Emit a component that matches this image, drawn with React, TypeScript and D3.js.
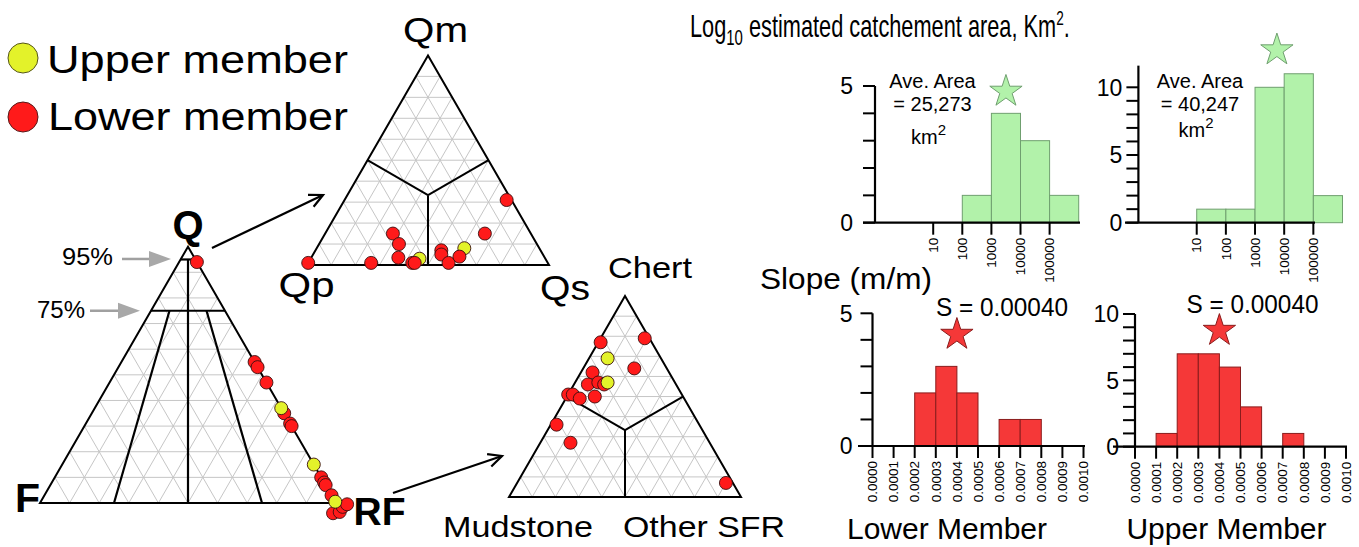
import React from 'react';
import * as d3 from 'd3';

const FONT = "'Liberation Sans', Arial, Helvetica, sans-serif";

// ---------------- DATA ----------------
type Member = 'U' | 'L';
type TPoint = [number, number, number, Member];

const memberLabels = ['Upper member', 'Lower member'];

// QFL: [Q, F, L(RF)]
const qflPoints: TPoint[] = [
  [94, 0, 6, 'L'],
  [55, 0, 45, 'L'], [53, 0, 47, 'L'], [47, 0, 53, 'L'],
  [35, 0, 65, 'L'], [31, 0, 69, 'L'], [30, 0, 70, 'L'],
  [10, 0, 90, 'L'], [8, 0, 92, 'L'], [7, 0, 93, 'L'], [3, 0, 97, 'L'],
  [-4, 3, 101, 'L'], [-3.5, 0.5, 103, 'L'], [-1.5, -1.5, 103, 'L'], [-0.5, -3.5, 104, 'L'],
  [37, 0, 63, 'U'], [15, 0, 85, 'U'], [0.5, 0, 99.5, 'U'],
];

// Qm-Qp-Qs: [Qm, Qp, Qs]
const qmPoints: TPoint[] = [
  [3, 52, 45, 'U'], [8, 31, 61, 'U'],
  [1, 99, 0, 'L'], [1, 73, 26, 'L'], [15, 57, 28, 'L'], [10, 57, 33, 'L'], [3.5, 60.5, 36, 'L'],
  [1, 56, 43, 'L'], [1, 55, 44, 'L'], [7, 41, 52, 'L'], [5, 42, 53, 'L'], [1, 41, 58, 'L'],
  [4, 35, 61, 'L'], [15, 19, 66, 'L'], [31, 2, 67, 'L'],
];

// Chert-Mudstone-Other SFR
const chertPoints: TPoint[] = [
  [77, 22, 1, 'L'], [79, 2, 19, 'L'], [64, 14, 22, 'L'], [62, 33, 5, 'L'], [56, 38, 6, 'L'],
  [57, 33, 10, 'L'], [56, 31, 13, 'L'], [51, 49, 0, 'L'], [51, 47, 2, 'L'], [49, 45, 6, 'L'],
  [50, 38, 12, 'L'], [36, 61.5, 2.5, 'L'], [27, 60, 13, 'L'], [7, 3, 90, 'L'],
  [69, 23, 8, 'U'], [57, 29, 14, 'U'],
];

const qflLabels = ['Q', 'F', 'RF'];
const qmLabels = ['Qm', 'Qp', 'Qs'];
const chertLabels = ['Chert', 'Mudstone', 'Other SFR'];
const qflBoundaries = [95, 75];
const qflBoundaryLabels = ['95%', '75%'];
const qflFeldsparSplits = [25, 75]; // % lithic along base

// Histograms
const areaEdgesLog = [-1, 0, 1, 2, 3, 4, 5, 6];
const lowerAreaCounts = [0, 0, 0, 1, 4, 3, 1];
const upperAreaCounts = [0, 0, 1, 1, 10, 11, 2];
const areaTickLogs = [1, 2, 3, 4, 5];
const areaTickLabels = ['10', '100', '1000', '10000', '100000'];
const slopeEdges = [0, 0.0001, 0.0002, 0.0003, 0.0004, 0.0005, 0.0006, 0.0007, 0.0008, 0.0009, 0.001];
const lowerSlopeCounts = [0, 0, 2, 3, 2, 0, 1, 1, 0, 0];
const upperSlopeCounts = [0, 1, 7, 7, 6, 3, 0, 1, 0, 0];
const slopeTickLabels = ['0.0000', '0.0001', '0.0002', '0.0003', '0.0004', '0.0005', '0.0006', '0.0007', '0.0008', '0.0009', '0.0010'];
const aveAreas = ['25,273', '40,247'];
const aveSlopes = ['0.00040', '0.00040'];
const areaStars: [number, number][] = [[3.5, 4.8], [3.75, 12.75]];
const slopeStars: [number, number][] = [[0.0004, 4.2], [0.0004, 8.75]];
const memberTitles = ['Lower Member', 'Upper Member'];

// ---------------- STYLE ----------------
const RED = '#ff1a1a';
const YELLOW = '#e3f22a';
const GREEN_FILL = '#b2f2aa';
const GREEN_STROKE = '#6f9f6f';
const RED_BAR = '#f53838';
const RED_BAR_STROKE = '#8a1c1c';
const GRID = '#c6c6c6';

const line = d3.line<[number, number]>();

function makeTernary(cx: number, baseY: number, side: number) {
  const h = (side * Math.sqrt(3)) / 2;
  const left = cx - side / 2;
  const sx = d3.scaleLinear().domain([0, 100]).range([0, side]);
  const sy = d3.scaleLinear().domain([0, 100]).range([baseY, baseY - h]);
  const proj = (t: number, l: number, r: number): [number, number] => {
    const s = t + l + r;
    const tt = (t * 100) / s;
    const rr = (r * 100) / s;
    return [left + sx(rr) + sx(tt) / 2, sy(tt)];
  };
  return proj;
}

type Seg = [[number, number, number], [number, number, number]];

function Ternary(props: {
  cx: number; baseY: number; side: number; points: TPoint[]; divisions: Seg[];
  labels: string[]; labelOffsets: [number, number][]; labelSizes: number[]; labelLens: (number | undefined)[];
  bold?: boolean; divWidth?: number;
}) {
  const { cx, baseY, side, points, divisions, labels, labelOffsets, labelSizes, labelLens, bold } = props;
  const p = makeTernary(cx, baseY, side);
  const grid: [number, number][][] = [];
  for (const k of d3.range(10, 100, 10)) {
    grid.push([p(k, 100 - k, 0), p(k, 0, 100 - k)]);
    grid.push([p(0, 100 - k, k), p(100 - k, 0, k)]);
    grid.push([p(0, k, 100 - k), p(100 - k, k, 0)]);
  }
  const verts = [p(100, 0, 0), p(0, 100, 0), p(0, 0, 100)];
  return (
    <g>
      {grid.map((g, i) => (
        <path key={'g' + i} d={line(g) || ''} stroke={GRID} strokeWidth={1} fill="none" />
      ))}
      {divisions.map((s, i) => (
        <path key={'d' + i} d={line([p(...s[0]), p(...s[1])]) || ''} stroke="#000" strokeWidth={props.divWidth ?? 2} fill="none" />
      ))}
      <path d={(line(verts) || '') + 'Z'} stroke="#000" strokeWidth={2} fill="none" strokeLinejoin="miter" />
      {points.map((pt, i) => {
        const [x, y] = p(pt[0], pt[1], pt[2]);
        return (
          <circle key={'p' + i} cx={x} cy={y} r={6.5} fill={pt[3] === 'U' ? YELLOW : RED} stroke="#3a1010" strokeWidth={0.9} />
        );
      })}
      {labels.map((lab, i) => (
        <text key={'l' + i} x={verts[i][0] + labelOffsets[i][0]} y={verts[i][1] + labelOffsets[i][1]}
          textAnchor="middle" fontSize={labelSizes[i]} fontWeight={bold ? 'bold' : 'normal'} fontFamily={FONT}
          textLength={labelLens[i]} lengthAdjust="spacingAndGlyphs">
          {lab}
        </text>
      ))}
    </g>
  );
}

function Histogram(props: {
  x: d3.ScaleLinear<number, number>; y: d3.ScaleLinear<number, number>;
  edges: number[]; counts: number[]; fill: string; stroke: string;
  xTicks: number[]; xTickLabels: string[]; yMaxTick: number; yLabelTicks: number[];
  yAxisTop: number; xAxisFrom: number; xAxisTo: number; yLabelGap: number;
  star: [number, number]; starFill: string; starStroke: string;
}) {
  const { x, y, edges, counts, fill, stroke, xTicks, xTickLabels, yMaxTick, yLabelTicks, star } = props;
  const x0 = x.range()[0];
  const y0 = y(0);
  const starPath = d3.symbol(d3.symbolStar, 324)() || '';
  return (
    <g fontFamily={FONT}>
      {counts.map((c, i) =>
        c > 0 ? (
          <rect key={i} x={x(edges[i])} y={y(c)} width={x(edges[i + 1]) - x(edges[i])} height={y0 - y(c)}
            fill={fill} stroke={stroke} strokeWidth={1} />
        ) : null
      )}
      <line x1={props.xAxisFrom} x2={props.xAxisTo} y1={y0} y2={y0} stroke="#000" strokeWidth={2.2} />
      <line x1={x0} x2={x0} y1={y0} y2={y(props.yAxisTop)} stroke="#000" strokeWidth={2.2} />
      {d3.range(0, yMaxTick + 1).map((t) => (
        <line key={'yt' + t} x1={x0 - 12} x2={x0} y1={y(t)} y2={y(t)} stroke="#000" strokeWidth={2} />
      ))}
      {yLabelTicks.map((t) => (
        <text key={'yl' + t} x={x0 - props.yLabelGap} y={y(t)} dy="0.36em" textAnchor="end" fontSize={23}>
          {t}
        </text>
      ))}
      {xTicks.map((t, i) => (
        <g key={'xt' + i}>
          <line x1={x(t)} x2={x(t)} y1={y0} y2={y0 + 12} stroke="#000" strokeWidth={2} />
          <text transform={`translate(${x(t)},${y0 + 15}) rotate(-90)`} textAnchor="end" dy="0.35em" fontSize={13.5}>
            {xTickLabels[i]}
          </text>
        </g>
      ))}
      <path d={starPath} transform={`translate(${x(star[0])},${y(star[1])})`} fill={props.starFill} stroke={props.starStroke} strokeWidth={1} />
    </g>
  );
}

function GrayArrow({ x1, x2, y }: { x1: number; x2: number; y: number }) {
  return (
    <g>
      <line x1={x1} x2={x2 - 20} y1={y} y2={y} stroke="#a0a0a0" strokeWidth={2.5} />
      <path d={`M${x2},${y} L${x2 - 22},${y - 8} L${x2 - 22},${y + 8} Z`} fill="#a8a8a8" />
    </g>
  );
}

function BlackArrow({ x1, y1, x2, y2 }: { x1: number; y1: number; x2: number; y2: number }) {
  const a = Math.atan2(y2 - y1, x2 - x1);
  const L = 15;
  const w1: [number, number] = [x2 - L * Math.cos(a - 0.45), y2 - L * Math.sin(a - 0.45)];
  const w2: [number, number] = [x2 - L * Math.cos(a + 0.45), y2 - L * Math.sin(a + 0.45)];
  return (
    <g stroke="#000" strokeWidth={2.2} fill="none">
      <line x1={x1} y1={y1} x2={x2} y2={y2} />
      <path d={line([w1, [x2, y2], w2]) || ''} />
    </g>
  );
}

export default function App() {
  const centroid: [number, number, number] = [100 / 3, 100 / 3, 100 / 3];
  const voronoi: Seg[] = [
    [centroid, [50, 50, 0]],
    [centroid, [50, 0, 50]],
    [centroid, [0, 50, 50]],
  ];
  const [b95, b75] = qflBoundaries;
  const [s1, s2] = qflFeldsparSplits;
  const qflDivs: Seg[] = [
    [[b95, 100 - b95, 0], [b95, 0, 100 - b95]],
    [[b75, 100 - b75, 0], [b75, 0, 100 - b75]],
    [[b95, (100 - b95) / 2, (100 - b95) / 2], [0, 50, 50]],
    [[b75, ((100 - b75) * (100 - s1)) / 100, ((100 - b75) * s1) / 100], [0, 100 - s1, s1]],
    [[b75, ((100 - b75) * (100 - s2)) / 100, ((100 - b75) * s2) / 100], [0, 100 - s2, s2]],
  ];
  const qflProj = makeTernary(188, 503, 296);

  const xArea1 = d3.scaleLinear().domain([-1, 6]).range([875, 1078.7]);
  const yArea1 = d3.scaleLinear().domain([0, 5]).range([222.7, 86]);
  const xArea2 = d3.scaleLinear().domain([-1, 6]).range([1138.4, 1342.5]);
  const yArea2 = d3.scaleLinear().domain([0, 10]).range([222.7, 87.3]);
  const xSlope1 = d3.scaleLinear().domain([0, 0.001]).range([872.5, 1083.5]);
  const ySlope1 = d3.scaleLinear().domain([0, 5]).range([446, 313.3]);
  const xSlope2 = d3.scaleLinear().domain([0, 0.001]).range([1135, 1346]);
  const ySlope2 = d3.scaleLinear().domain([0, 10]).range([446.7, 314]);

  return (
    <svg width={1359} height={547} viewBox="0 0 1359 547" style={{ position: 'absolute', left: 0, top: 0, background: '#fff' }}
      fontFamily={FONT}>
      <rect x={0} y={0} width={1359} height={547} fill="#fff" />

      {/* Legend */}
      <circle cx={23} cy={58} r={15} fill={YELLOW} stroke="#55551a" strokeWidth={1} />
      <circle cx={23} cy={117} r={15} fill={RED} stroke="#551a1a" strokeWidth={1} />
      <text x={47} y={73} fontSize={39.5} textLength={301} lengthAdjust="spacingAndGlyphs">{memberLabels[0]}</text>
      <text x={48} y={130} fontSize={39.5} textLength={300} lengthAdjust="spacingAndGlyphs">{memberLabels[1]}</text>

      {/* QFL */}
      <Ternary cx={188} baseY={503} side={296} points={qflPoints} divisions={qflDivs}
        labels={qflLabels} labelOffsets={[[0, -8], [-12.5, 9], [43.5, 22]]} labelSizes={[40, 41, 39]}
        labelLens={[undefined, undefined, undefined]} bold divWidth={2.2} />
      <text x={62} y={265} fontSize={23} textLength={51} lengthAdjust="spacingAndGlyphs">{qflBoundaryLabels[0]}</text>
      <text x={37} y={318} fontSize={23} textLength={48} lengthAdjust="spacingAndGlyphs">{qflBoundaryLabels[1]}</text>
      <GrayArrow x1={122} x2={171} y={qflProj(b95, 0, 100 - b95)[1] - 0.5} />
      <GrayArrow x1={90} x2={140} y={qflProj(b75, 0, 100 - b75)[1]} />

      {/* Qm Qp Qs */}
      <Ternary cx={428} baseY={265} side={242} points={qmPoints} divisions={voronoi}
        labels={qmLabels} labelOffsets={[[7.5, -13.4], [-0.5, 32], [16, 35]]} labelSizes={[35, 35, 35]}
        labelLens={[65, 56, 50]} />

      {/* Chert */}
      <Ternary cx={625} baseY={497} side={232} points={chertPoints} divisions={voronoi}
        labels={chertLabels} labelOffsets={[[25, -18], [9, 40], [-37, 40]]} labelSizes={[30, 30, 30]}
        labelLens={[84, 150, 162]} />

      <BlackArrow x1={212} y1={248} x2={323} y2={195} />
      <BlackArrow x1={393} y1={493} x2={502} y2={456} />

      {/* Titles */}
      <g transform="translate(690,37) scale(0.68,1)">
        <text x={0} y={0} fontSize={32}>
          Log<tspan fontSize={22} dy={8}>10</tspan>
          <tspan dy={-8}> estimated catchement area, Km</tspan>
          <tspan fontSize={20} dy={-12}>2</tspan>
          <tspan dy={12}>.</tspan>
        </text>
      </g>
      <text x={760} y={289} fontSize={30} textLength={172} lengthAdjust="spacingAndGlyphs">Slope (m/m)</text>

      {/* Area histograms */}
      <Histogram x={xArea1} y={yArea1} edges={areaEdgesLog} counts={lowerAreaCounts} fill={GREEN_FILL} stroke={GREEN_STROKE}
        xTicks={areaTickLogs} xTickLabels={areaTickLabels} yMaxTick={5} yLabelTicks={[0, 5]} yAxisTop={5}
        xAxisFrom={863} xAxisTo={1080} yLabelGap={22} star={areaStars[0]} starFill={GREEN_FILL} starStroke={GREEN_STROKE} />
      <Histogram x={xArea2} y={yArea2} edges={areaEdgesLog} counts={upperAreaCounts} fill={GREEN_FILL} stroke={GREEN_STROKE}
        xTicks={areaTickLogs} xTickLabels={areaTickLabels} yMaxTick={10} yLabelTicks={[0, 5, 10]} yAxisTop={11.6}
        xAxisFrom={1125} xAxisTo={1315} yLabelGap={16} star={areaStars[1]} starFill={GREEN_FILL} starStroke={GREEN_STROKE} />

      {[[932.5, 88, 111, 144], [1200, 88, 111, 137]].map((pos, i) => (
        <g key={'ave' + i} fontSize={20} textAnchor="middle">
          <text x={pos[0]} y={pos[1]}>Ave. Area</text>
          <text x={pos[0]} y={pos[2]}>= {aveAreas[i]}</text>
          <text x={pos[0] - 4} y={pos[3]}>km<tspan fontSize={15} dy={-9}>2</tspan></text>
        </g>
      ))}

      {/* Slope histograms */}
      <Histogram x={xSlope1} y={ySlope1} edges={slopeEdges} counts={lowerSlopeCounts} fill={RED_BAR} stroke={RED_BAR_STROKE}
        xTicks={slopeEdges} xTickLabels={slopeTickLabels} yMaxTick={5} yLabelTicks={[0, 5]} yAxisTop={5}
        xAxisFrom={858} xAxisTo={1085} yLabelGap={20} star={slopeStars[0]} starFill={RED_BAR} starStroke={RED_BAR_STROKE} />
      <Histogram x={xSlope2} y={ySlope2} edges={slopeEdges} counts={upperSlopeCounts} fill={RED_BAR} stroke={RED_BAR_STROKE}
        xTicks={slopeEdges} xTickLabels={slopeTickLabels} yMaxTick={10} yLabelTicks={[0, 5, 10]} yAxisTop={10}
        xAxisFrom={1113} xAxisTo={1347} yLabelGap={16} star={slopeStars[1]} starFill={RED_BAR} starStroke={RED_BAR_STROKE} />

      <text x={1002} y={316} fontSize={26} textAnchor="middle" textLength={132} lengthAdjust="spacingAndGlyphs">S = {aveSlopes[0]}</text>
      <text x={1252.5} y={313} fontSize={26} textAnchor="middle" textLength={132} lengthAdjust="spacingAndGlyphs">S = {aveSlopes[1]}</text>

      <text x={947} y={539} fontSize={30} textAnchor="middle">{memberTitles[0]}</text>
      <text x={1226.5} y={539} fontSize={30} textAnchor="middle">{memberTitles[1]}</text>
    </svg>
  );
}
